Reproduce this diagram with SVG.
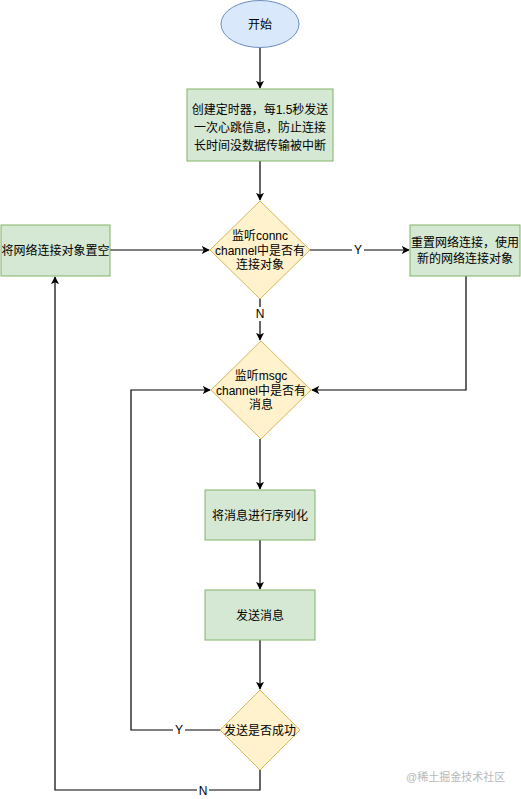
<svg xmlns="http://www.w3.org/2000/svg" width="521" height="799" viewBox="0 0 521 799">
<style>
text{font-family:"Liberation Sans","Noto Sans CJK SC",sans-serif;font-size:12px;fill:#000;text-anchor:middle;dominant-baseline:central}
.ell{fill:#dae8fc;stroke:#6c8ebf;stroke-width:1}
.box{fill:#d5e8d4;stroke:#82b366;stroke-width:1}
.dia{fill:#fff2cc;stroke:#d6b656;stroke-width:1}
.ln{fill:none;stroke:#000;stroke-width:1.2}
.lbl{fill:#fff;stroke:none}
.wm{fill:#b8b8b8;font-size:11px;text-anchor:start}
</style>
<defs>
<marker id="arr" viewBox="0 0 10 10" refX="9" refY="5" markerWidth="8" markerHeight="8" markerUnits="userSpaceOnUse" orient="auto">
<path d="M0,0 L10,5 L0,10 L2.5,5 Z" fill="#000"/>
</marker>
</defs>
<rect width="521" height="799" fill="#fff"/>
<g id="connectors">
<path class="ln" d="M260,48 V88" marker-end="url(#arr)"/>
<path class="ln" d="M260,161 V200" marker-end="url(#arr)"/>
<path class="ln" d="M110,250 H209" marker-end="url(#arr)"/>
<path class="ln" d="M310,250 H409" marker-end="url(#arr)"/>
<path class="ln" d="M260,299 V340" marker-end="url(#arr)"/>
<path class="ln" d="M466,276 V390 H312" marker-end="url(#arr)"/>
<path class="ln" d="M260,439 V489" marker-end="url(#arr)"/>
<path class="ln" d="M260,540 V589" marker-end="url(#arr)"/>
<path class="ln" d="M260,640 V689" marker-end="url(#arr)"/>
<path class="ln" d="M220,730 H131 V390 H210" marker-end="url(#arr)"/>
<path class="ln" d="M260,770 V790 H55 V277" marker-end="url(#arr)"/>
<rect class="lbl" x="352" y="243" width="12" height="14"/>
<text x="358" y="250">Y</text>
<rect class="lbl" x="254" y="307" width="12" height="14"/>
<text x="260" y="314">N</text>
<rect class="lbl" x="173" y="723" width="12" height="14"/>
<text x="179" y="730">Y</text>
<rect class="lbl" x="197" y="784" width="12" height="14"/>
<text x="203" y="791">N</text>
</g>
<g id="start">
<ellipse class="ell" cx="260" cy="24" rx="39" ry="23.5"/>
<text x="260" y="25">开始</text>
</g>
<g id="timer">
<rect class="box" x="187" y="89" width="146" height="72"/>
<text x="260" y="110">创建定时器，每1.5秒发送</text>
<text x="260" y="128">一次心跳信息，防止连接</text>
<text x="260" y="146">长时间没数据传输被中断</text>
</g>
<g id="clear">
<rect class="box" x="1" y="225" width="109" height="51"/>
<text x="55.5" y="251">将网络连接对象置空</text>
</g>
<g id="connc">
<path class="dia" d="M260,201 L310,250 L260,299 L210,250 Z"/>
<text x="260" y="236">监听connc</text>
<text x="260" y="251">channel中是否有</text>
<text x="260" y="265">连接对象</text>
</g>
<g id="reset">
<rect class="box" x="410" y="225" width="110" height="51"/>
<text x="465" y="243">重置网络连接，使用</text>
<text x="465" y="259">新的网络连接对象</text>
</g>
<g id="msgc">
<path class="dia" d="M261,341 L311,390 L261,439 L211,390 Z"/>
<text x="261" y="376">监听msgc</text>
<text x="261" y="391">channel中是否有</text>
<text x="261" y="405">消息</text>
</g>
<g id="serialize">
<rect class="box" x="205" y="490" width="110" height="50"/>
<text x="260" y="516">将消息进行序列化</text>
</g>
<g id="send">
<rect class="box" x="205" y="590" width="110" height="50"/>
<text x="260" y="616">发送消息</text>
</g>
<g id="success">
<path class="dia" d="M260,690 L300,730 L260,770 L220,730 Z"/>
<text x="260" y="731">发送是否成功</text>
</g>
<text class="wm" x="406" y="777">@稀土掘金技术社区</text>
</svg>
